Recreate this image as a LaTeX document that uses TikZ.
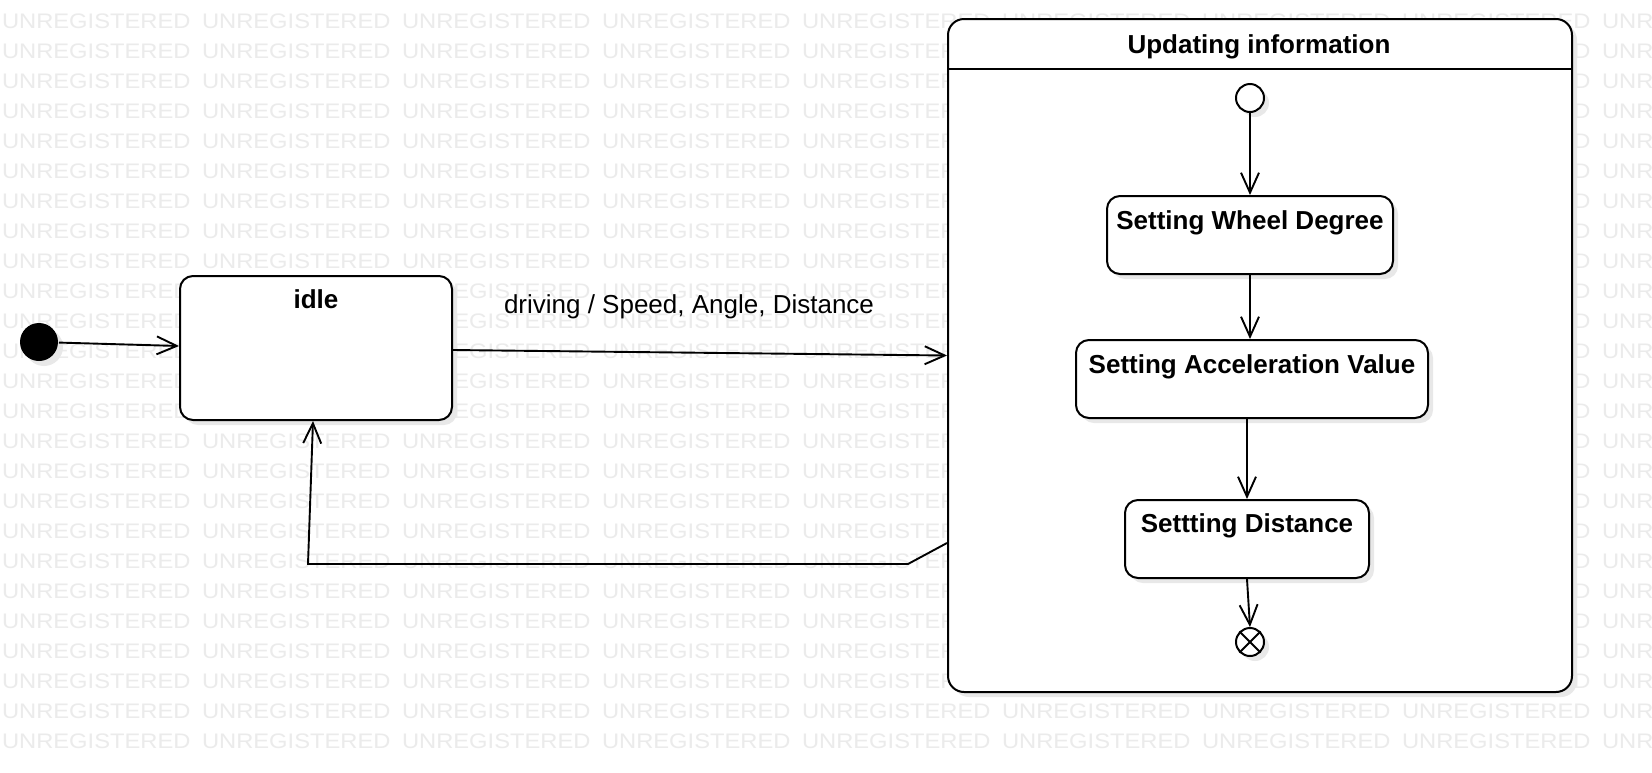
\documentclass[tikz,border=0pt]{standalone}
\usepackage{fontspec}
\setmainfont{Liberation Sans}
\usetikzlibrary{arrows.meta,shadows}
\begin{document}
\begin{tikzpicture}[x=1pt,y=-1pt,
  line width=2pt,
  shad/.style={drop shadow={shadow xshift=5pt,shadow yshift=-5pt,fill=black!9,opacity=1}},
  stbox/.style={draw, fill=white, rounded corners=13pt, shad, inner sep=0pt},
  arr/.style={-{Straight Barb[length=20pt,width=18pt]}, line width=1.9pt},
  lbl/.style={font=\fontsize{26}{30}\selectfont\bfseries, inner sep=0pt, anchor=base},
  trl/.style={font=\fontsize{26}{30}\selectfont, inner sep=0pt, anchor=base},
  wm/.style={text=black!8, font=\fontsize{21}{24}\selectfont, inner sep=0pt, anchor=base west}
]
\useasboundingbox (0,0) rectangle (1652,772);
\fill[white] (0,0) rectangle (1652,772);
% watermark
\foreach \r in {0,...,24} {
  \foreach \c in {0,...,8} {
    \node[wm] (wm-\r-\c) at (1+200*\c, 28.5+30*\r) {\scalebox{1.13}[1]{UNREGISTERED}};
  }
}
% initial state
\node[circle, fill=black, minimum size=38pt, inner sep=0pt, shad] (init) at (39,342) {};
% idle
\node[stbox, minimum width=272pt, minimum height=144pt] (idle) at (316,348) {};
\node[lbl] (idlet) at (316,308.5) {idle};
% container
\node[stbox, rounded corners=16pt, minimum width=624pt, minimum height=673pt] (upd) at (1260,355.5) {};
\draw ([yshift=-50.5pt]upd.north west) -- ([yshift=-50.5pt]upd.north east);
\node[lbl] (updt) at (1259,53.5) {Updating information};
% inner states
\node[circle, draw, fill=white, minimum size=28pt, inner sep=0pt, shad] (init2) at (1250,98) {};
\node[stbox, minimum width=286pt, minimum height=78pt] (wheel) at (1250,235) {};
\node[lbl] (wheelt) at (1250,229) {Setting Wheel Degree};
\node[stbox, minimum width=352pt, minimum height=78pt] (accel) at (1252,379) {};
\node[lbl] (accelt) at (1252,373) {Setting Acceleration Value};
\node[stbox, minimum width=244pt, minimum height=78pt] (dist) at (1247,539) {};
\node[lbl] (distt) at (1247,532) {Settting Distance};
\node[circle, draw, fill=white, minimum size=28pt, inner sep=0pt, shad] (final) at (1250,642) {};
\draw (final.north west) -- (final.south east);
\draw (final.north east) -- (final.south west);
% transitions
\draw[arr] (init) -- ([yshift=2pt]idle.west);
\draw[arr] ([yshift=-2pt]idle.east) -- (upd.west);
\node[trl] (drv) at (689,313.5) {driving / Speed, Angle, Distance};
\coordinate (r0) at ([yshift=-187.5pt]upd.west);
\coordinate (r1) at (908,564);
\coordinate (r2) at (308,564);
\draw[arr] (r0) -- (r1) -- (r2) -- ([xshift=-3pt]idle.south);
\draw[arr] (init2) -- (init2 |- wheel.north);
\draw[arr] (wheel.south -| init2) -- (init2 |- accel.north);
\draw[arr] (dist.north |- accel.south) -- (dist.north);
\draw[arr] (dist.south) -- (final.north);
\end{tikzpicture}
\end{document}
